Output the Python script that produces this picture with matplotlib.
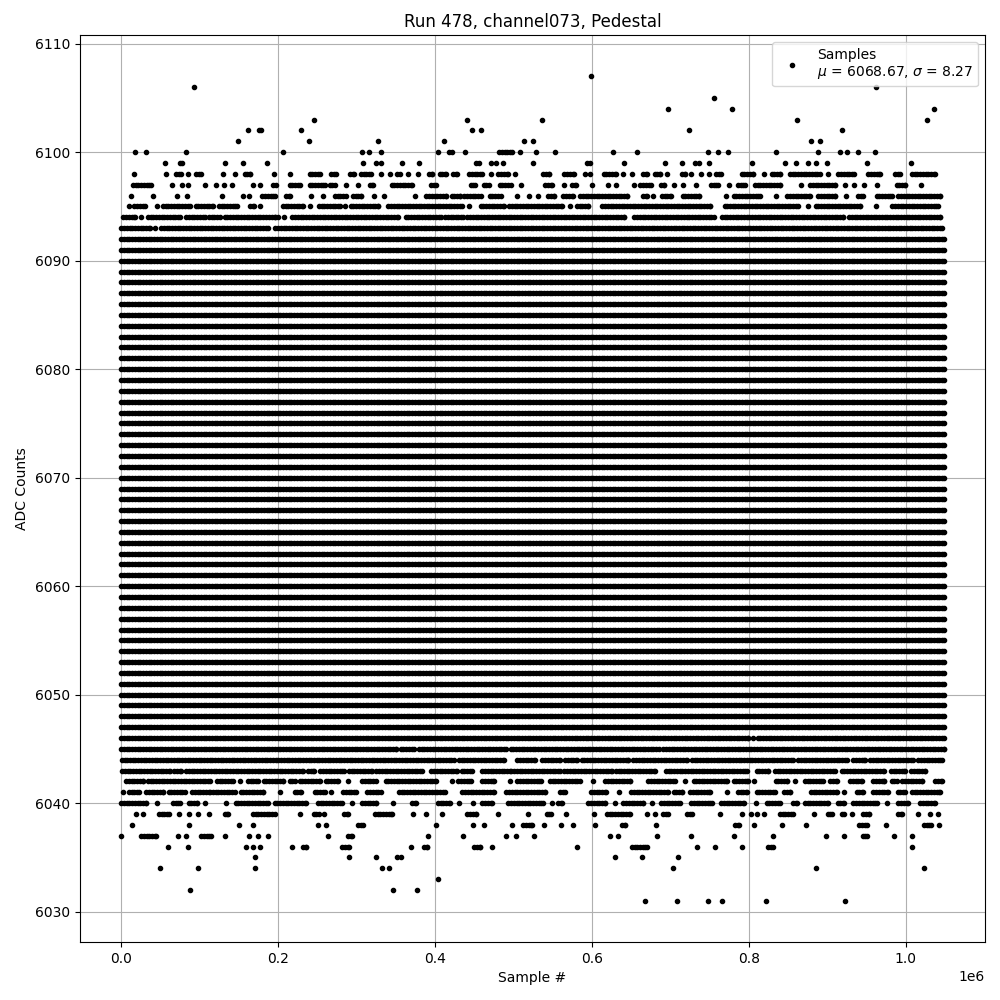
import numpy as np
import matplotlib
matplotlib.use("Agg")
import matplotlib.pyplot as plt

# ---------------- data (x in thousands of samples) ----------------
n_samples = 1048576
mean_adc = 6068.67
sigma_adc = 8.27
title = "Run 478, channel073, Pedestal"

# ADC levels occupied over the whole run (solid bands)
full_levels = list(range(6047, 6093))

# Other levels: single samples (numbers) and densely filled stretches (tuples)
level_runs = {
    6107: [598.5],
    6106: [92.7, 961.7],
    6105: [755.9],
    6104: [696.8, 778.4, 1036.1],
    6103: [245.8, 441.3, 536.9, 860.9, 1026.8],
    6102: [161.6, 175.2, 178.6, 229.2, 447.6, 459.1, 723.6, 918.8],
    6101: [148.8, 239.4, 327.7, 411.9, 514.0, 525.2, 878.8, 890.7],
    6100: [17.4, 31.4, 82.5, 206.2, 307.3, 316.2, 331.5, 403.8, 417.9, 422.1, 438.7,
           (481.7, 498.7), 508.9, 529.2, 552.6, 626.6, 657.2, 747.8, 760.6, 773.3,
           834.1, 887.7, 916.2, 924.7, 938.8, 960.5],
    6099: [56.1, 74.4, 77.8, 132.2, 155.6, 185.8, 308.6, 324.7, 330.7, 358.3, 380.0,
           451.9, 456.1, 471.0, 477.4, 487.2, 524.8, 594.3, 597.3, 641.1, 693.0, 714.6,
           731.7, 735.9, 749.1, 803.5, 846.0, 859.7, 875.8, 885.2, 899.2, 950.2, 1006.4],
    6098: [16.1, 57.0, (69.7, 76.5), 85.0, (95.7, 102.1), 129.7, 145.0, (157.3, 164.6),
           194.3, 214.8, (240.3, 253.0), (267.7, 274.1), (291.6, 296.7), (305.6, 318.8),
           331.5, 342.2, (352.0, 354.9), 366.0, 378.3, (392.3, 396.6), (406.0, 414.5),
           (423.4, 427.6), (443.4, 460.4), 471.5, (480.8, 493.6), 501.7, (538.1, 545.4),
           (565.0, 577.3), 591.3, 597.3, (615.1, 630.4), 639.4, 650.8, (665.7, 670.8),
           (679.8, 687.0), 695.5, (714.6, 718.9), 726.1, 738.9, 748.7, (758.0, 764.4),
           (790.8, 805.6), 819.7, (829.0, 839.7), (852.4, 890.7), 901.3, (914.1, 934.1),
           (952.4, 967.2), (986.4, 992.8), (1007.7, 1037.4)],
    6097: [(14.9, 38.3), 64.6, 77.3, 85.8, 107.1, 121.2, 130.6, 141.2, 168.0, 176.5,
           193.5, 197.8, (214.8, 227.5), (240.3, 259.4), (265.6, 272.0), 286.9, 302.2,
           (316.6, 321.3), (344.7, 371.1), (395.3, 400.9), (445.5, 451.0), (462.1, 468.9),
           (482.5, 496.5), 510.2, (540.3, 548.8), 564.5, (575.1, 579.4), 599.8, 620.2,
           630.4, 653.4, (661.9, 675.5), (687.8, 692.5), 704.4, 715.9, 732.5,
           (751.6, 760.6), 774.6, (786.1, 795.0), (807.8, 839.7), 866.0, (878.0, 909.8),
           922.6, 934.5, 947.3, 963.0, (988.5, 999.2), 1019.1],
    6096: [12.3, 40.4, 71.0, 83.8, 128.4, 155.2, 162.9, (179.9, 195.6), (210.5, 214.8),
           242.4, 256.8, (272.4, 286.0), (295.4, 306.0), 322.2, 335.4, 374.1,
           (389.0, 413.6), (421.3, 431.9), (437.4, 458.3), (469.8, 483.8), 505.0, 519.9,
           531.8, (544.5, 552.2), (563.7, 576.4), (584.9, 644.5), (665.7, 670.0), 678.5,
           (689.1, 701.0), (715.5, 736.8), 771.2, (780.6, 814.1), 834.6, (849.0, 878.0),
           (888.6, 909.8), 923.4, (939.6, 946.0), (963.0, 982.1), (990.6, 1043.8)],
    6095: [9.8, (17.0, 29.8), 45.9, (53.1, 87.2), (94.8, 117.0), (124.6, 147.5),
           (164.6, 168.8), 176.9, (206.2, 231.8), 240.3, (252.0, 278.4), 284.7,
           (292.4, 327.7), (340.5, 434.9), 443.8, (458.3, 488.0), (494.4, 561.5), 571.7,
           (580.7, 595.6), (613.4, 750.8), (769.0, 863.1), 875.8, (885.2, 941.7), 961.7,
           (983.0, 1041.7)],
    6094: [(3.0, 18.3), 25.5, (34.0, 74.4), (82.9, 106.3), (111.8, 125.4), (131.8, 180.7),
           (185.0, 195.6), 199.9, 207.1, (218.2, 352.8), (362.6, 407.2), (412.8, 426.4),
           (429.8, 435.7), (441.3, 641.1), (654.2, 755.0), (765.7, 920.5), (927.7, 1043.8)],
    6093: [(0.4, 37.0), 43.4, (51.0, 187.1), (196.5, 1046.5)],
    6046: [(0.0, 542.4), (546.6, 799.3), 805.6, (811.2, 1048.5)],
    6045: [(0.0, 350.7), (356.2, 373.2), (379.6, 490.2), (496.5, 684.9), (691.2, 1048.5)],
    6044: [(0.8, 424.2), (430.6, 488.0), (505.0, 527.5), (536.9, 559.4), (565.8, 580.7),
           (587.0, 646.6), (653.0, 721.0), (727.4, 856.7), (863.0, 924.7), (933.2, 948.1),
           (954.5, 1009.8), (1016.2, 1046.8)],
    6043: [(1.3, 61.7), (68.0, 76.5), (82.9, 231.8), (238.1, 245.4), (254.0, 283.9),
           (290.3, 320.0), (325.2, 383.8), (395.3, 428.5), (434.0, 447.6), (460.4, 496.5),
           (500.8, 559.4), (564.9, 625.3), (630.4, 680.6), (694.2, 797.1), (809.9, 824.8),
           (833.3, 909.8), (918.3, 972.4), (980.9, 999.2), (1006.8, 1024.7)],
    6042: [(6.4, 27.6), (34.0, 112.7), (122.0, 142.5), 151.0, (161.6, 174.4), (181.6, 206.2),
           (214.8, 221.1), (227.5, 253.0), (260.5, 276.7), 289.4, (307.3, 324.3),
           (337.1, 400.9), 421.3, (429.8, 445.5), (460.4, 475.3), 495.7, (505.0, 535.2),
           (546.6, 584.9), 601.1, (616.8, 648.7), (672.1, 706.1), 718.9, (729.5, 772.0),
           (780.6, 799.3), 806.9, (834.1, 848.2), 858.8, (871.6, 895.0), (903.5, 912.8),
           (929.0, 944.7), (958.7, 972.8), (982.1, 988.5), (995.7, 1020.4), (1037.4, 1046.8)],
    6041: [2.1, (9.8, 23.4), (31.9, 53.1), (60.4, 80.8), (90.6, 112.7), (117.0, 144.6),
           (152.2, 180.7), 202.0, (221.1, 229.6), (246.7, 259.4), 266.9, (283.0, 298.8),
           (313.7, 330.7), (354.1, 412.8), (434.9, 475.3), (491.0, 540.3), (559.4, 565.8),
           (599.0, 617.7), 634.7, (650.0, 697.6), (704.0, 714.6), (725.3, 750.8), 772.0,
           (786.1, 797.1), (809.9, 833.3), (845.2, 852.4), (879.2, 912.0), 921.7,
           (937.5, 946.0), (958.7, 977.9), (989.8, 999.2), (1007.7, 1043.8)],
    6040: [(0.0, 31.9), 45.9, (65.9, 74.4), (85.9, 96.5), 107.1, 133.1, (145.9, 187.1),
           (195.6, 236.0), (250.9, 281.8), 294.5, (307.3, 325.2), 346.4, (371.1, 376.2),
           (403.8, 418.7), 430.6, 448.5, (460.4, 473.2), (493.6, 538.1), 548.8,
           (557.3, 561.5), (595.6, 616.8), 629.6, (640.2, 665.7), 676.4, (688.3, 712.5),
           (726.5, 752.9), (764.8, 793.3), 808.6, (822.6, 839.7), (856.7, 860.9),
           (871.6, 900.5), (913.2, 921.7), (933.2, 963.0), 975.8, (990.6, 1003.4),
           (1018.3, 1037.4)],
    6039: [19.1, 27.6, (48.0, 60.8), 73.6, 86.3, 97.8, 111.8, (131.8, 136.1), (168.0, 195.6),
           228.0, (245.4, 252.2), 258.6, (283.9, 289.0), (323.4, 345.6), 372.4, 389.0, 409.4,
           (441.3, 451.9), 480.8, 519.1, (542.4, 547.9), 567.1, 602.8, (619.0, 648.7), 670.0,
           680.6, (691.2, 697.6), (721.0, 727.4), 762.7, 791.2, 802.7, 809.9, 819.7,
           (839.7, 856.7), 883.0, (900.5, 905.6), (918.3, 921.7), 931.1, (946.0, 953.6),
           (990.6, 994.9), 1015.3, 1031.0, 1040.8],
    6038: [13.6, 86.3, 150.1, 168.0, 250.9, 260.5, (302.2, 308.6), 401.7, 448.5, 462.5,
           498.7, (512.3, 524.2), 538.6, 560.3, 575.6, 604.1, (638.1, 642.3), 681.5,
           (782.7, 787.8), 806.9, 841.8, 872.4, (940.5, 950.2), 974.5, (1023.0, 1032.3),
           1042.1],
    6037: [0.0, (25.5, 44.6), 72.3, 82.9, (102.1, 114.8), 132.2, 162.9, 174.8, 187.5, 263.9,
           (289.4, 294.5), 391.5, 436.2, 491.0, 503.8, 526.3, 623.2, 633.8, 682.7, 726.1,
           780.6, 830.3, 897.9, 920.9, (945.1, 950.2), 985.5, 1008.5],
    6036: [59.5, 85.0, 158.6, 168.0, 176.5, 217.7, (231.8, 236.0), (281.8, 290.3), 369.8,
           (386.0, 390.2), (449.8, 457.0), 473.2, 580.7, (650.8, 670.0), 734.2, 757.2,
           791.2, (824.8, 831.2), 1008.5],
    6035: [171.0, 290.7, 325.2, 352.0, 356.2, 629.2, 663.6, 709.5],
    6034: [49.3, 97.8, 170.5, 332.8, 341.3, 703.2, 885.2, 1023.0],
    6033: [403.8],
    6032: [87.6, 346.8, 377.5],
    6031: [667.4, 708.3, 747.8, 765.7, 821.4, 922.2],
}

# ---------------- build marks ----------------
step_k = 3.5  # spacing (k samples) used to fill a dense stretch


def expand(seg):
    if isinstance(seg, tuple):
        a, b = seg
        return np.append(np.arange(a, b, step_k), b)
    return np.array([seg], dtype=float)


xs, ys = [], []
last_k = (n_samples - 1) / 1000.0
for lvl in full_levels:
    x = expand((0.0, last_k))
    xs.append(x)
    ys.append(np.full(x.size, lvl))
for lvl, segs in level_runs.items():
    for s in segs:
        x = expand(s)
        xs.append(x)
        ys.append(np.full(x.size, lvl))
x_all = np.concatenate(xs) * 1000.0
y_all = np.concatenate(ys)

# ---------------- plot ----------------
fig, ax = plt.subplots(figsize=(10, 10), dpi=100)
ax.plot(x_all, y_all, 'k.',
        label="Samples\n$\\mu$ = %.2f, $\\sigma$ = %.2f" % (mean_adc, sigma_adc))
ax.set_title(title)
ax.set_xlabel("Sample #")
ax.set_ylabel("ADC Counts")
ax.grid(True)
ax.legend(loc="upper right")
fig.subplots_adjust(left=0.08, right=0.985, top=0.965, bottom=0.058)
fig.savefig("out.png", dpi=100)
